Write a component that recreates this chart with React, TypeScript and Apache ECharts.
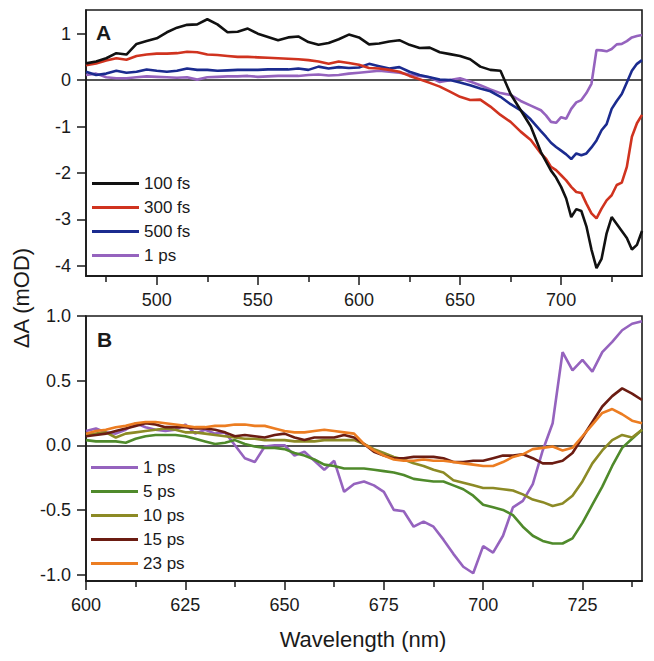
import React, { useEffect, useRef } from "react";
import * as echarts from "echarts";

// ---------- Panel A data ----------
const wlA = [
  465, 470, 475, 480, 485, 490, 495, 500, 505, 510, 515, 520, 525, 530, 535, 540, 545, 550, 555, 560,
  565, 570, 575, 580, 585, 590, 595, 600, 605, 610, 615, 620, 625, 630, 635, 640, 645, 650, 655, 660,
  665, 670, 675, 680, 685, 690, 692.5, 695, 697.5, 700, 702.5, 705, 707.5, 710, 712.5, 715, 717.5, 720,
  722.5, 725, 727.5, 730, 732.5, 735, 737.5, 740,
];
const a100fs = [
  0.36, 0.4, 0.47, 0.58, 0.55, 0.78, 0.84, 0.9, 1.03, 1.13, 1.19, 1.2, 1.31, 1.2, 1.03, 1.04, 1.11, 1.0, 0.93, 0.86,
  0.92, 0.94, 0.82, 0.76, 0.8, 0.88, 0.98, 0.92, 0.77, 0.79, 0.83, 0.86, 0.76, 0.69, 0.7, 0.6, 0.56, 0.52, 0.45, 0.29,
  0.22, 0.2, -0.3, -0.65, -1.0, -1.55, -1.75, -1.95, -2.1, -2.3, -2.55, -2.95, -2.78, -2.82, -3.15, -3.65, -4.05, -3.85,
  -3.3, -2.95, -3.1, -3.25, -3.4, -3.65, -3.55, -3.25,
];
const a300fs = [
  0.32, 0.36, 0.42, 0.47, 0.44, 0.52, 0.55, 0.57, 0.57, 0.58, 0.61, 0.6, 0.55, 0.54, 0.52, 0.5, 0.5, 0.49, 0.48, 0.47,
  0.46, 0.45, 0.43, 0.4, 0.35, 0.4, 0.37, 0.33, 0.26, 0.25, 0.22, 0.18, 0.09, 0.02, -0.06, -0.14, -0.25, -0.36, -0.43, -0.42,
  -0.57, -0.75, -0.9, -1.11, -1.29, -1.58, -1.69, -1.87, -1.94, -2.05, -2.16, -2.3, -2.41, -2.43, -2.66, -2.87, -2.98, -2.77,
  -2.59, -2.48, -2.26, -2.21, -1.87, -1.22, -0.93, -0.75,
];
const a500fs = [
  0.18, 0.11, 0.14, 0.2, 0.16, 0.18, 0.23, 0.2, 0.18, 0.2, 0.25, 0.22, 0.22, 0.2, 0.21, 0.22, 0.22, 0.22, 0.23, 0.23,
  0.23, 0.25, 0.22, 0.29, 0.25, 0.28, 0.26, 0.27, 0.35, 0.3, 0.25, 0.28, 0.18, 0.11, 0.06, 0.01, 0.0, -0.05, -0.11, -0.18,
  -0.24, -0.36, -0.52, -0.65, -0.85, -1.1, -1.22, -1.35, -1.44, -1.52, -1.6, -1.7, -1.58, -1.62, -1.58, -1.45, -1.3, -1.08,
  -0.95, -0.62, -0.45, -0.3, -0.05, 0.2, 0.35, 0.43,
];
const a1ps = [
  0.11, 0.14, 0.06, 0.04, 0.04, 0.06, 0.08, 0.07, 0.06, 0.05, 0.06, 0.01, 0.06, 0.07, 0.08, 0.08, 0.09, 0.07, 0.08, 0.09,
  0.09, 0.09, 0.11, 0.12, 0.1, 0.11, 0.14, 0.16, 0.18, 0.2, 0.18, 0.16, 0.12, 0.09, 0.06, -0.04, 0.0, 0.04, -0.03, -0.11,
  -0.2, -0.28, -0.32, -0.45, -0.55, -0.65, -0.76, -0.9, -0.92, -0.8, -0.83, -0.62, -0.48, -0.43, -0.28, -0.08, 0.65, 0.64,
  0.62, 0.67, 0.77, 0.78, 0.84, 0.92, 0.95, 0.97,
];

// ---------- Panel B data ----------
const wlB = [
  600, 602.5, 605, 607.5, 610, 612.5, 615, 617.5, 620, 622.5, 625, 627.5, 630, 632.5, 635, 637.5, 640, 642.5, 645,
  647.5, 650, 652.5, 655, 657.5, 660, 662.5, 665, 667.5, 670, 672.5, 675, 677.5, 680, 682.5, 685, 687.5, 690, 692.5,
  695, 697.5, 700, 702.5, 705, 707.5, 710, 712.5, 715, 717.5, 720, 722.5, 725, 727.5, 730, 732.5, 735, 737.5, 740,
];
const b1ps = [
  0.11, 0.13, 0.1, 0.09, 0.12, 0.17, 0.14, 0.12, 0.11, 0.12, 0.16, 0.09, 0.12, 0.09, 0.1, 0.0, -0.1, -0.13, -0.01,
  0.0, 0.0, -0.08, -0.05, -0.12, -0.19, -0.12, -0.36, -0.3, -0.28, -0.31, -0.36, -0.5, -0.51, -0.63, -0.59, -0.63, -0.73, -0.84,
  -0.94, -0.99, -0.78, -0.83, -0.7, -0.48, -0.43, -0.3, -0.04, 0.17, 0.72, 0.58, 0.66, 0.57, 0.72, 0.8, 0.89, 0.94, 0.96,
];
const b5ps = [
  0.04, 0.03, 0.03, 0.03, 0.02, 0.05, 0.07, 0.08, 0.08, 0.08, 0.07, 0.05, 0.03, 0.01, 0.02, 0.04, 0.01, -0.01, -0.02,
  -0.02, -0.03, -0.06, -0.08, -0.11, -0.15, -0.16, -0.18, -0.18, -0.18, -0.19, -0.2, -0.21, -0.23, -0.26, -0.27, -0.28, -0.28, -0.31,
  -0.34, -0.39, -0.46, -0.48, -0.5, -0.54, -0.63, -0.7, -0.74, -0.76, -0.76, -0.72, -0.6, -0.46, -0.32, -0.16, -0.02, 0.05, 0.12,
];
const b10ps = [
  0.08, 0.09, 0.1, 0.06, 0.09, 0.1, 0.11, 0.12, 0.13, 0.12, 0.1, 0.1, 0.09, 0.08, 0.07, 0.06, 0.05, 0.05, 0.04,
  0.04, 0.04, 0.03, 0.03, 0.03, 0.04, 0.04, 0.04, 0.04, 0.01, -0.03, -0.06, -0.09, -0.11, -0.14, -0.16, -0.19, -0.21, -0.27,
  -0.29, -0.31, -0.33, -0.33, -0.34, -0.35, -0.38, -0.42, -0.44, -0.47, -0.45, -0.39, -0.28, -0.14, -0.04, 0.04, 0.08, 0.06, 0.12,
];
const b15ps = [
  0.07, 0.08, 0.09, 0.11, 0.13, 0.15, 0.17, 0.16, 0.14, 0.14, 0.14, 0.13, 0.13, 0.12, 0.1, 0.07, 0.08, 0.07, 0.06,
  0.08, 0.09, 0.06, 0.04, 0.06, 0.06, 0.06, 0.08, 0.06, 0.01, -0.05, -0.08, -0.1, -0.1, -0.09, -0.09, -0.09, -0.1, -0.13,
  -0.13, -0.12, -0.12, -0.1, -0.08, -0.08, -0.07, -0.1, -0.14, -0.14, -0.12, -0.06, 0.06, 0.18, 0.3, 0.38, 0.44, 0.4, 0.35,
];
const b23ps = [
  0.09, 0.11, 0.12, 0.14, 0.15, 0.17, 0.18, 0.18, 0.17, 0.16, 0.15, 0.14, 0.14, 0.15, 0.15, 0.16, 0.16, 0.15, 0.15,
  0.13, 0.11, 0.1, 0.1, 0.11, 0.12, 0.11, 0.1, 0.09, 0.01, -0.04, -0.08, -0.11, -0.12, -0.12, -0.11, -0.12, -0.12, -0.13,
  -0.14, -0.15, -0.16, -0.16, -0.13, -0.09, -0.07, -0.03, -0.02, -0.01, -0.04, -0.02, 0.07, 0.16, 0.25, 0.28, 0.24, 0.19, 0.17,
];

const namesA = ["100 fs", "300 fs", "500 fs", "1 ps"];
const namesB = ["1 ps", "5 ps", "10 ps", "15 ps", "23 ps"];
const colorsA = ["#111111", "#d0331f", "#1b2b8f", "#9563be"];
const colorsB = ["#9563be", "#4f8a2b", "#8c8a25", "#6b1c12", "#ec7d22"];

const ticksA_y = [-4, -3, -2, -1, 0, 1];
const ticksA_x = [500, 550, 600, 650, 700];
const minorA_x = [475, 525, 575, 625, 675, 725];
const ticksB_y = [-1, -0.5, 0, 0.5, 1];
const ticksB_x = [600, 625, 650, 675, 700, 725];
const minorB_x = [612.5, 637.5, 662.5, 687.5, 712.5, 737.5];

const FONT = "'Liberation Sans', Arial, Helvetica, sans-serif";
const INK = "#1a1a1a";

function pairs(xs: number[], ys: number[]) {
  return xs.map((x, i) => [x, ys[i]]);
}

export default function App() {
  const ref = useRef<HTMLDivElement>(null);
  useEffect(() => {
    if (!ref.current) return;
    const chart = echarts.init(ref.current, undefined, { renderer: "svg" });

    const mkX = (grid: number, min: number, max: number, vals: number[], len: number, labels: boolean) => ({
      type: "value",
      gridIndex: grid,
      min,
      max,
      position: "bottom",
      axisLine: { show: true, onZero: false, lineStyle: { color: INK, width: 1.6 } },
      splitLine: { show: false },
      axisTick: { show: true, customValues: vals, length: len, lineStyle: { color: INK, width: 1.5 } },
      axisLabel: labels
        ? { show: true, customValues: vals, color: INK, fontSize: 18, fontFamily: FONT, margin: 15 }
        : { show: false },
    });
    const mkY = (grid: number, min: number, max: number, vals: number[], fmt: (v: number) => string) => ({
      type: "value",
      gridIndex: grid,
      min,
      max,
      position: "left",
      axisLine: { show: true, onZero: false, lineStyle: { color: INK, width: 1.6 } },
      splitLine: { show: false },
      axisTick: { show: true, customValues: vals, length: 9, lineStyle: { color: INK, width: 1.5 } },
      axisLabel: { show: true, customValues: vals, formatter: fmt, color: INK, fontSize: 18, fontFamily: FONT, margin: 15 },
    });

    const zeroLine = {
      silent: true,
      symbol: ["none", "none"],
      label: { show: false },
      lineStyle: { color: INK, width: 1.5, type: "solid" },
      data: [{ yAxis: 0 }],
    };

    const seriesA = namesA.map((name, i) => ({
      name,
      type: "line",
      xAxisIndex: 0,
      yAxisIndex: 0,
      symbol: "none",
      data: pairs(wlA, [a100fs, a300fs, a500fs, a1ps][i]),
      lineStyle: { color: colorsA[i], width: 2.6 },
      itemStyle: { color: colorsA[i] },
      z: 10 - i,
      ...(i === 0 ? { markLine: zeroLine } : {}),
    }));
    const seriesB = namesB.map((name, i) => ({
      name,
      type: "line",
      xAxisIndex: 2,
      yAxisIndex: 1,
      symbol: "none",
      data: pairs(wlB, [b1ps, b5ps, b10ps, b15ps, b23ps][i]),
      lineStyle: { color: colorsB[i], width: 2.6 },
      itemStyle: { color: colorsB[i] },
      z: 10,
      ...(i === 0 ? { markLine: zeroLine } : {}),
    }));

    const legendBase = {
      orient: "vertical",
      padding: 0,
      icon: "rect",
      itemWidth: 47,
      itemHeight: 3,
      itemGap: 7,
      selectedMode: false,
      textStyle: { color: INK, fontSize: 17, fontFamily: FONT, lineHeight: 17 },
    };

    chart.setOption({
      animation: false,
      backgroundColor: "#ffffff",
      grid: [
        { left: 86, top: 10, width: 556, height: 266, show: true, borderColor: INK, borderWidth: 1.6 },
        { left: 86, top: 316, width: 556, height: 265, show: true, borderColor: INK, borderWidth: 1.6 },
      ],
      xAxis: [
        mkX(0, 465, 740, ticksA_x, 9, true),
        mkX(0, 465, 740, minorA_x, 6, false),
        mkX(1, 600, 740, ticksB_x, 9, true),
        mkX(1, 600, 740, minorB_x, 6, false),
      ],
      yAxis: [
        mkY(0, -4.22, 1.51, ticksA_y, (v: number) => String(Math.round(v))),
        mkY(1, -1.05, 1.0, ticksB_y, (v: number) => v.toFixed(1)),
      ],
      legend: [
        { ...legendBase, data: namesA, left: 92, top: 175 },
        { ...legendBase, data: namesB, left: 91, top: 459 },
      ],
      graphic: [
        {
          type: "text",
          x: 96,
          y: 32,
          style: { text: "A", font: `bold 21px ${FONT}`, fill: INK, textVerticalAlign: "middle" },
        },
        {
          type: "text",
          x: 97,
          y: 339,
          style: { text: "B", font: `bold 21px ${FONT}`, fill: INK, textVerticalAlign: "middle" },
        },
        {
          type: "text",
          x: 21,
          y: 298,
          rotation: Math.PI / 2,
          style: {
            text: "ΔA (mOD)",
            font: `22px ${FONT}`,
            fill: INK,
            textAlign: "center",
            textVerticalAlign: "middle",
          },
        },
        {
          type: "text",
          x: 363,
          y: 639,
          style: {
            text: "Wavelength (nm)",
            font: `22px ${FONT}`,
            fill: INK,
            textAlign: "center",
            textVerticalAlign: "middle",
          },
        },
      ],
      series: [...seriesA, ...seriesB],
    });
    return () => chart.dispose();
  }, []);
  return (
    <div
      ref={ref}
      style={{ position: "fixed", left: 0, top: 0, width: 654, height: 661, background: "#fff" }}
    />
  );
}
